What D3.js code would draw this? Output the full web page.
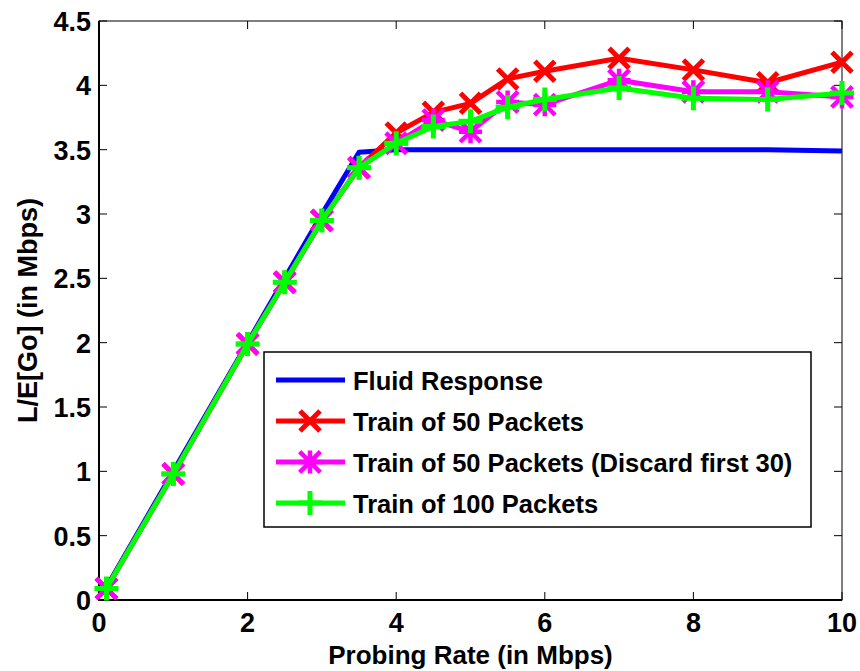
<!DOCTYPE html>
<html>
<head>
<meta charset="utf-8">
<script src="https://cdn.jsdelivr.net/npm/d3@7"></script>
<style>
  body { margin: 0; background: #fff; }
  text { font-family: "Liberation Sans", Arial, sans-serif; font-weight: bold; }
</style>
</head>
<body>
<script>
// probing rates (Mbps)
var rates = [0.1, 1, 2, 2.5, 3, 3.5, 4, 4.5, 5, 5.5, 6, 7, 8, 9, 10];
var fluid = [0.1, 1, 2, 2.5, 3, 3.48, 3.5, 3.5, 3.5, 3.5, 3.5, 3.5, 3.5, 3.5, 3.49];
var train50 = [0.09, 0.98, 1.99, 2.47, 2.95, 3.36, 3.63, 3.79, 3.86, 4.05, 4.11, 4.21, 4.12, 4.02, 4.18];
var train50d = [0.09, 0.98, 1.99, 2.47, 2.95, 3.36, 3.55, 3.73, 3.64, 3.87, 3.85, 4.04, 3.95, 3.95, 3.91];
var train100 = [0.09, 0.98, 1.99, 2.47, 2.95, 3.36, 3.55, 3.68, 3.72, 3.83, 3.89, 3.98, 3.90, 3.89, 3.94];
var xTicks = [0, 2, 4, 6, 8, 10];
var yTicks = [0, 0.5, 1, 1.5, 2, 2.5, 3, 3.5, 4, 4.5];
var names = ["Fluid Response", "Train of 50 Packets", "Train of 50 Packets (Discard first 30)", "Train of 100 Packets"];

var series = [
  {name: names[0], vals: fluid, color: "#0000ff", marker: null},
  {name: names[1], vals: train50, color: "#ff0000", marker: "x"},
  {name: names[2], vals: train50d, color: "#ff00ff", marker: "star"},
  {name: names[3], vals: train100, color: "#00ff00", marker: "plus"}
];

var width = 860, height = 671;
var margin = {top: 21, right: 18, bottom: 71, left: 99};

var svg = d3.select("body").append("svg")
    .attr("width", width)
    .attr("height", height);

var x = d3.scaleLinear().domain([0, 10]).range([margin.left, width - margin.right]);
var y = d3.scaleLinear().domain([0, 4.5]).range([height - margin.bottom, margin.top]);

// box + ticks (matlab style, inward, mirrored)
var box = svg.append("g");
box.append("rect")
    .attr("x", x(0)).attr("y", y(4.5))
    .attr("width", x(10) - x(0)).attr("height", y(0) - y(4.5))
    .style("fill", "none").style("stroke", "#000").style("stroke-width", 1);

var tickLen = 8;
box.selectAll(".xt").data(xTicks).enter().append("path")
    .attr("d", d => "M" + x(d) + "," + y(0) + "v" + (-tickLen) + "M" + x(d) + "," + y(4.5) + "v" + tickLen)
    .style("stroke", "#000").style("stroke-width", 1);
box.selectAll(".yt").data(yTicks).enter().append("path")
    .attr("d", d => "M" + x(0) + "," + y(d) + "h" + tickLen + "M" + x(10) + "," + y(d) + "h" + (-tickLen))
    .style("stroke", "#000").style("stroke-width", 1);

// heavier bottom/left axis lines
box.append("path")
    .attr("d", "M" + x(0) + "," + y(4.5) + "V" + y(0) + "H" + x(10))
    .style("fill", "none").style("stroke", "#000").style("stroke-width", 2);

svg.selectAll(".xl").data(xTicks).enter().append("text")
    .attr("x", d => x(d)).attr("y", y(0) + 32)
    .attr("text-anchor", "middle")
    .style("font-size", "27px")
    .text(d => d);
svg.selectAll(".yl").data(yTicks).enter().append("text")
    .attr("x", x(0) - 8).attr("y", d => y(d) + 10)
    .attr("text-anchor", "end")
    .style("font-size", "27px")
    .text(d => d);

svg.append("text")
    .attr("x", (x(0) + x(10)) / 2).attr("y", height - 7)
    .attr("text-anchor", "middle")
    .style("font-size", "26px")
    .text("Probing Rate (in Mbps)");
svg.append("text")
    .attr("transform", "translate(37," + ((y(0) + y(4.5)) / 2) + ") rotate(-90)")
    .attr("text-anchor", "middle")
    .style("font-size", "27px")
    .text("L/E[Go] (in Mbps)");

function markerPath(type, r) {
  var d = r * 0.9;
  if (type === "x") return "M" + (-r) + "," + (-r) + "L" + r + "," + r + "M" + (-r) + "," + r + "L" + r + "," + (-r);
  if (type === "plus") return "M" + (-r) + ",0H" + r + "M0," + (-r) + "V" + r;
  if (type === "star") return "M" + (-r) + ",0H" + r + "M0," + (-r) + "V" + r +
      "M" + (-d) + "," + (-d) + "L" + d + "," + d + "M" + (-d) + "," + d + "L" + d + "," + (-d);
  return "";
}
var markerSize = {x: 10, star: 11.5, plus: 12};
var markerStroke = {x: 5, star: 4.5, plus: 5};

var line = d3.line()
    .x((d, i) => x(rates[i]))
    .y(d => y(d));

var plot = svg.append("g");
series.forEach(function(s) {
  plot.append("path")
      .attr("d", line(s.vals))
      .style("fill", "none")
      .style("stroke", s.color)
      .style("stroke-width", 5)
      .style("stroke-linejoin", "round");
  if (s.marker) {
    plot.selectAll(null).data(s.vals).enter().append("path")
        .attr("transform", (d, i) => "translate(" + x(rates[i]) + "," + y(d) + ")")
        .attr("d", markerPath(s.marker, markerSize[s.marker]))
        .style("fill", "none")
        .style("stroke", s.color)
        .style("stroke-width", markerStroke[s.marker]);
  }
});

// legend
var legend = svg.append("g");
legend.append("rect")
    .attr("x", 264).attr("y", 352)
    .attr("width", 547).attr("height", 175)
    .style("fill", "#fff").style("stroke", "#000").style("stroke-width", 1.5);

var rows = legend.selectAll(".row").data(series).enter().append("g")
    .attr("transform", (d, i) => "translate(0," + (380 + i * 41) + ")");
rows.append("path")
    .attr("d", "M276,0H345")
    .style("stroke", d => d.color).style("stroke-width", 5);
rows.append("path")
    .attr("transform", "translate(310,0)")
    .attr("d", d => markerPath(d.marker, markerSize[d.marker]))
    .style("fill", "none")
    .style("stroke", d => d.color).style("stroke-width", d => markerStroke[d.marker] || 5);
rows.append("text")
    .attr("x", 353).attr("y", 10)
    .style("font-size", "25.5px")
    .text(d => d.name);
</script>
</body>
</html>
